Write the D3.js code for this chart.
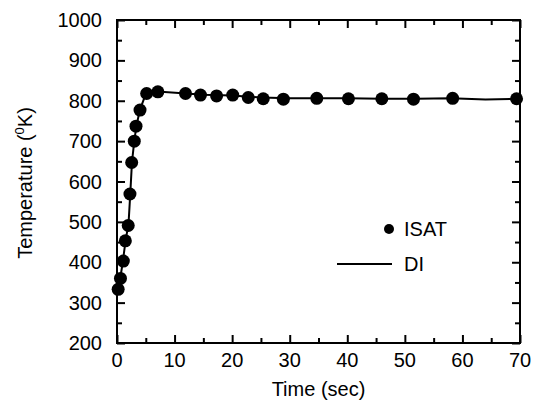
<!DOCTYPE html>
<html>
<head>
<meta charset="utf-8" />
<script src="https://d3js.org/d3.v7.min.js"></script>
<style>
  body { margin: 0; background: #fff; }
  text { font-family: "Liberation Sans", Arial, sans-serif; fill: #000; }
</style>
</head>
<body>
<svg width="534" height="400"></svg>
<script>
// ISAT points: time (sec), temperature (K)
var isatTime = [0.2, 0.6, 1.1, 1.45, 1.95, 2.25, 2.55, 3.0, 3.3, 4.0, 5.15, 7.1, 11.9, 14.5, 17.3, 20.1, 22.8, 25.4, 28.9, 34.7, 40.2, 46.0, 51.5, 58.3, 69.4];
var isatTemp = [333, 360, 403, 453, 491, 569, 647, 700, 737, 777, 818, 822, 818, 814, 812, 814, 808, 805, 804, 806, 805, 805, 804, 806, 805];

// DI curve
var diTime = [0, 0.5, 1.0, 1.5, 2.0, 2.3, 2.6, 3.0, 3.4, 4.0, 5.0, 7.0, 12, 15, 20, 25, 30, 35, 40, 46, 52, 58, 64, 70];
var diTemp = [330, 355, 400, 455, 495, 568, 648, 700, 740, 778, 817, 823, 818, 815, 813, 808, 806, 806, 806, 805, 805, 806, 803, 805];

var xTicks = [0, 10, 20, 30, 40, 50, 60, 70];
var yTicks = [200, 300, 400, 500, 600, 700, 800, 900, 1000];

var svg = d3.select("svg"),
    margin = {top: 20, right: 14, bottom: 57, left: 117},
    width = +svg.attr("width") - margin.left - margin.right,
    height = +svg.attr("height") - margin.top - margin.bottom;

var x = d3.scaleLinear().domain([0, 70]).range([0, width]),
    y = d3.scaleLinear().domain([200, 1000]).range([height, 0]);

var g = svg.append("g")
    .attr("transform", "translate(" + margin.left + "," + margin.top + ")");

// inward ticks on all four sides, major + minor
function ticks(axisFn, scale, major, minor, len, transform) {
  var a = g.append("g").attr("transform", transform || null);
  a.call(axisFn(scale).tickValues(minor).tickSize(-5).tickFormat(""));
  a.call(function(sel) {
    sel.append("g").call(axisFn(scale).tickValues(major).tickSize(-len).tickFormat(""));
  });
  a.selectAll("path").remove();
  a.selectAll("line").attr("stroke", "#000").attr("stroke-width", 2);
  return a;
}
var xMinor = d3.range(5, 70, 10), yMinor = d3.range(250, 1000, 100);
ticks(d3.axisBottom, x, xTicks, xMinor, 8, "translate(0," + height + ")");
ticks(d3.axisTop, x, xTicks, xMinor, 8, null);
ticks(d3.axisLeft, y, yTicks, yMinor, 8, null);
ticks(d3.axisRight, y, yTicks, yMinor, 8, "translate(" + width + ",0)");

g.append("rect")
    .attr("width", width).attr("height", height)
    .attr("fill", "none").attr("stroke", "#000").attr("stroke-width", 2);

// tick labels
g.selectAll(".xl").data(xTicks).enter().append("text")
    .attr("x", function(d) { return x(d); })
    .attr("y", height + 24)
    .attr("text-anchor", "middle")
    .style("font-size", "20px")
    .text(function(d) { return d; });

g.selectAll(".yl").data(yTicks).enter().append("text")
    .attr("x", -15)
    .attr("y", function(d) { return y(d) + 7; })
    .attr("text-anchor", "end")
    .style("font-size", "20px")
    .text(function(d) { return d; });

svg.append("text")
    .attr("x", margin.left + width / 2)
    .attr("y", 396)
    .attr("text-anchor", "middle")
    .style("font-size", "20px")
    .text("Time (sec)");

var yl = svg.append("text")
    .attr("transform", "translate(32,183) rotate(-90)")
    .attr("text-anchor", "middle")
    .style("font-size", "20px");
yl.append("tspan").text("Temperature (");
yl.append("tspan").attr("dy", -8).style("font-size", "13px").text("0");
yl.append("tspan").attr("dy", 8).text("K)");

// DI line
var line = d3.line()
    .x(function(d, i) { return x(diTime[i]); })
    .y(function(d) { return y(d); });

g.append("path")
    .datum(diTemp)
    .attr("fill", "none")
    .attr("stroke", "#000")
    .attr("stroke-width", 2)
    .attr("d", line);

// ISAT dots
g.selectAll(".dot").data(isatTemp).enter().append("circle")
    .attr("cx", function(d, i) { return x(isatTime[i]); })
    .attr("cy", function(d) { return y(d); })
    .attr("r", 6.5)
    .attr("fill", "#000");

// legend
var leg = svg.append("g");
leg.append("circle").attr("cx", 389).attr("cy", 229).attr("r", 5).attr("fill", "#000");
leg.append("text").attr("x", 404).attr("y", 236).style("font-size", "20px").text("ISAT");
leg.append("line").attr("x1", 337).attr("x2", 392).attr("y1", 264).attr("y2", 264)
    .attr("stroke", "#000").attr("stroke-width", 2);
leg.append("text").attr("x", 404).attr("y", 271).style("font-size", "20px").text("DI");
</script>
</body>
</html>
